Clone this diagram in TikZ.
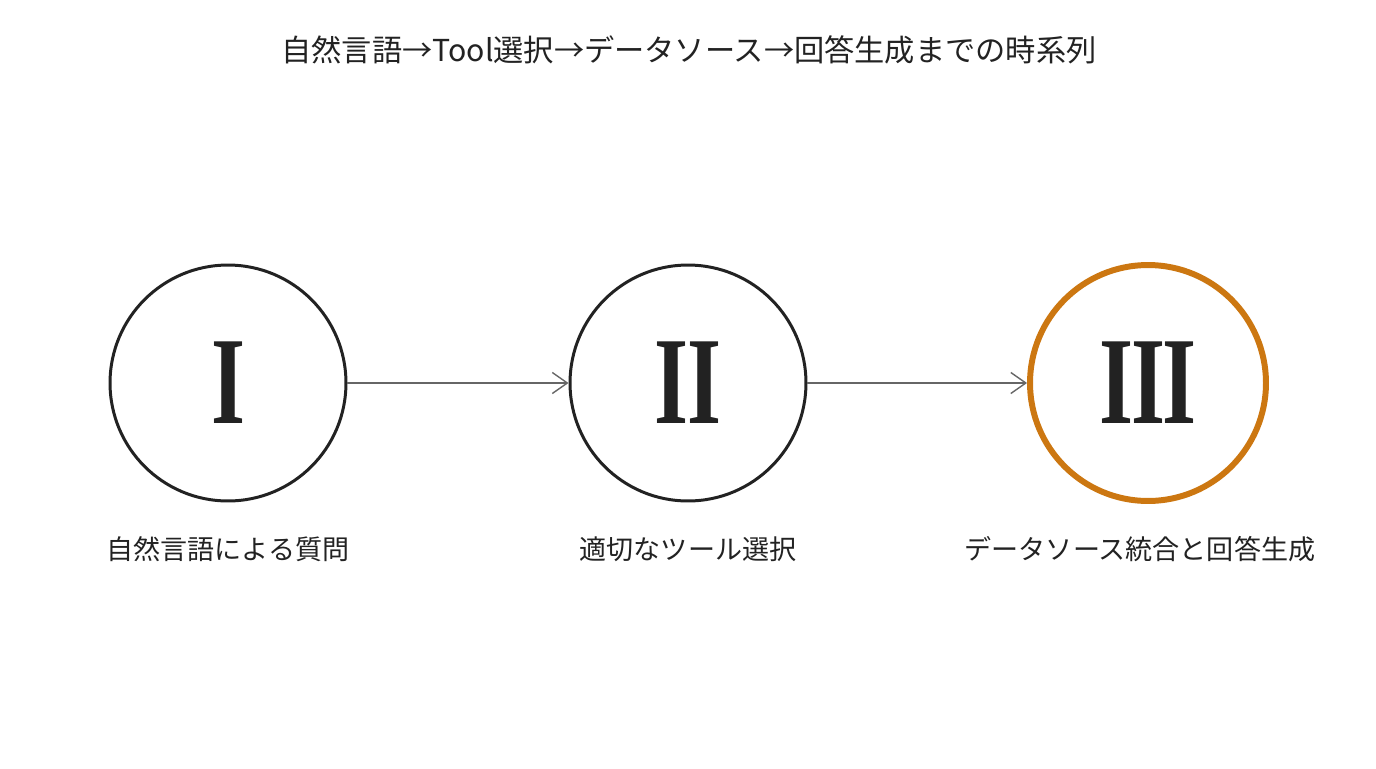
\documentclass[tikz,border=0pt]{standalone}
\usepackage{fontspec}
\setmainfont{Noto Sans CJK JP}
\newfontfamily\numfont{Liberation Serif}
\usetikzlibrary{arrows.meta}
\definecolor{ink}{HTML}{222222}
\definecolor{amber}{HTML}{CC7711}
\definecolor{wire}{HTML}{666666}
\newcommand{\numeral}[1]{\scalebox{0.7}[1]{#1}}

\begin{document}
\begin{tikzpicture}[x=0.02cm,y=-0.02cm,
        stage/.style={draw=ink,circle,line width=1.7pt,minimum size=4.72cm,inner sep=0pt,text=ink,font=\numfont\bfseries\fontsize{71}{71}\selectfont},
        caption/.style={text=ink,font=\fontsize{15.4}{18}\selectfont},
        flow/.style={draw=wire,line width=0.8pt,-{Straight Barb[length=0.3cm,width=0.42cm]}}]
        \useasboundingbox(0,0)rectangle(1376,768);
        \node(title)at(689,50)[text=ink,font=\fontsize{17.2}{20}\selectfont]{自然言語→Tool選択→データソース→回答生成までの時系列};
        \node(one)at(228,383)[stage]{\numeral{I}};
        \node(two)at(688,383)[stage]{\numeral{I\kern-0.01em I}};
        \node(three)at(1148,383)[stage,draw=amber,line width=3.4pt]{\numeral{I\kern-0.03em I\kern-0.03em I}};
        \node(asklabel)at(228,549)[caption]{自然言語による質問};
        \node(toollabel)at(688,549)[caption]{適切なツール選択};
        \node(answerlabel)at(1140,549)[caption]{データソース統合と回答生成};
        \draw[flow](one)--(two);
        \draw[flow](two)--(three);
    \end{tikzpicture}
\end{document}
